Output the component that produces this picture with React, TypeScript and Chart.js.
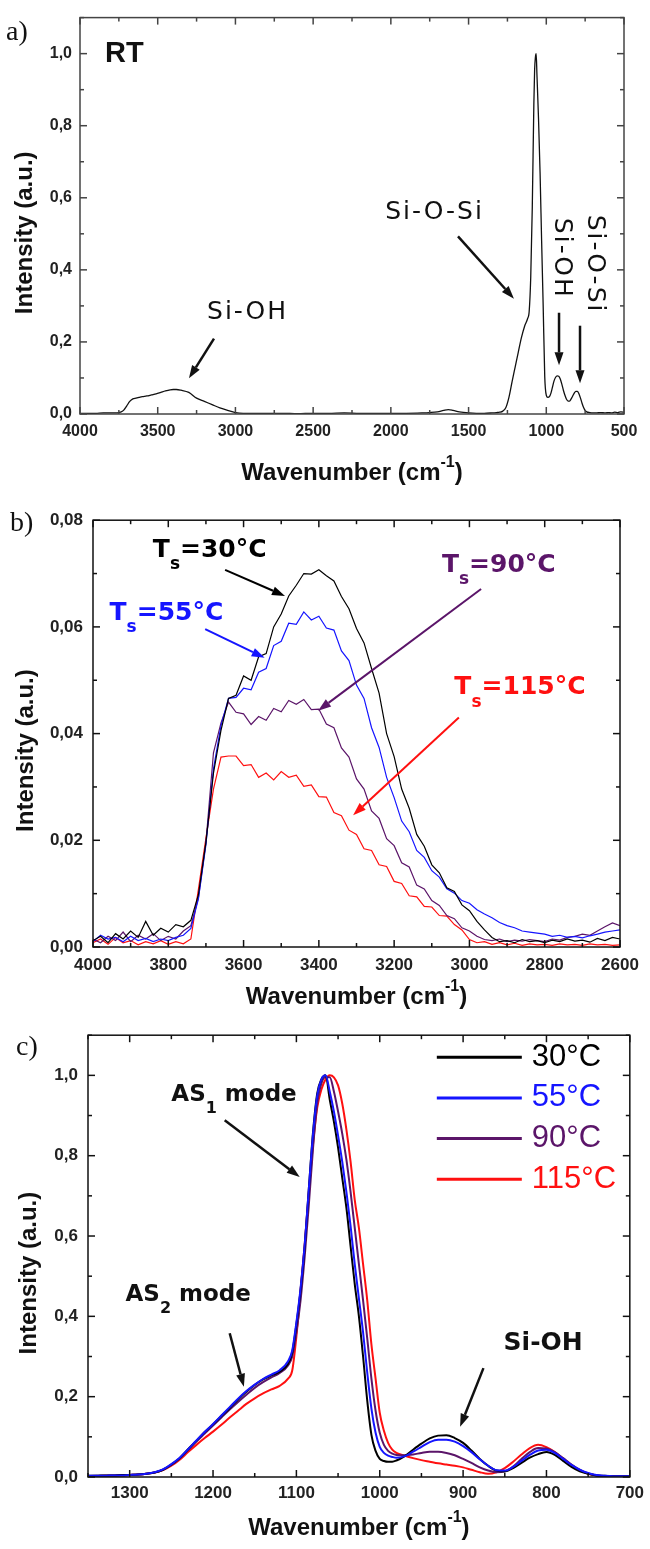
import React, { useEffect, useRef } from "react";
import { Chart, registerables } from "chart.js";
Chart.register(...registerables);

// ---------------- Panel a (RT spectrum) ----------------
const A_WAVENUMBER = [4000,3950,3900,3850,3800,3760,3740,3720,3700,3680,3660,3640,3620,3600,
  3570,3540,3510,3480,3450,3420,3400,3380,3350,
  3300,3250,3200,3150,3100,3050,3000,2950,2900,
  2800,2700,2600,2500,2400,2300,2200,2100,2000,
  1900,1800,1750,1700,1660,1630,1600,1560,1500,1450,1400,1350,
  1320,1300,1280,1260,1240,1220,1200,1180,1160,1140,1120,1110,
  1100,1090,1080,1075,1070,1065,1060,1050,1040,1030,1020,1010,1000,
  990,980,970,960,950,940,930,920,910,900,890,880,870,860,850,840,830,820,810,800,790,780,770,760,750,740,
  720,700,680,650,620,600,580,560,540,520,500];
const A_INTENSITY = [0.002,0.002,0.002,0.003,0.003,0.003,0.005,0.010,0.022,0.035,0.042,0.044,0.046,0.048,
  0.050,0.053,0.056,0.060,0.064,0.067,0.068,0.068,0.066,
  0.060,0.044,0.035,0.026,0.017,0.010,0.004,0.002,0.002,
  0.002,0.002,0.001,0.002,0.002,0.003,0.002,0.002,0.002,
  0.002,0.003,0.004,0.006,0.010,0.012,0.010,0.006,0.003,0.002,0.002,0.003,
  0.004,0.005,0.008,0.018,0.047,0.090,0.131,0.172,0.212,0.243,0.265,0.285,
  0.38,0.575,0.86,0.955,0.99,1.0,0.94,0.82,0.67,0.48,0.30,0.105,0.052,
  0.046,0.048,0.058,0.075,0.092,0.102,0.106,0.105,0.097,0.083,0.066,0.052,0.041,0.036,0.036,0.042,0.050,0.058,0.063,0.063,0.056,0.044,0.030,0.018,0.010,0.006,
  0.004,0.003,0.003,0.004,0.003,0.004,0.003,0.005,0.004,0.006,0.005];
const A_X_TICKS = [4000, 3500, 3000, 2500, 2000, 1500, 1000, 500];
const A_Y_TICKS = [0, 0.2, 0.4, 0.6, 0.8, 1.0];

// ---------------- Panel b (OH band vs Ts) ----------------
const B_WAVENUMBER = [4000,3980,3960,3940,3920,3900,3880,3860,3840,3820,
  3800,3780,3760,3740,3720,3700,3680,3660,3640,3620,
  3600,3580,3560,3540,3520,3500,3480,3460,3440,3420,
  3400,3380,3360,3340,3320,3300,3280,3260,3240,3220,
  3200,3180,3160,3140,3120,3100,3080,3060,3040,3020,
  3000,2980,2960,2940,2920,2900,2880,2860,2840,2820,
  2800,2780,2760,2740,2720,2700,2680,2660,2640,2620,2600];
const B_30 = [0.0012,0.0020,0.0008,0.0025,0.0015,0.0030,0.0018,0.0048,0.0022,0.0035,
  0.0028,0.0042,0.0038,0.0050,0.0098,0.0196,0.0326,0.0406,0.0466,0.0472,
  0.0508,0.0500,0.0544,0.0550,0.0600,0.0624,0.0658,0.0678,0.0700,0.0699,
  0.0707,0.0696,0.0686,0.0657,0.0634,0.0597,0.0570,0.0522,0.0476,0.0400,
  0.0357,0.0296,0.0260,0.0211,0.0189,0.0154,0.0139,0.0111,0.0104,0.0079,
  0.0068,0.0048,0.0032,0.0018,0.0010,0.0012,0.0008,0.0014,0.0010,0.0012,
  0.0008,0.0013,0.0010,0.0015,0.0011,0.0013,0.0009,0.0016,0.0012,0.0018,0.0015];
const B_55 = [0.0010,0.0022,0.0015,0.0018,0.0010,0.0020,0.0012,0.0016,0.0010,0.0015,
  0.0012,0.0018,0.0022,0.0035,0.0090,0.0192,0.0334,0.0415,0.0466,0.0468,
  0.0485,0.0482,0.0515,0.0522,0.0565,0.0573,0.0607,0.0605,0.0628,0.0613,
  0.0620,0.0598,0.0594,0.0555,0.0537,0.0491,0.0466,0.0411,0.0374,0.0318,
  0.0280,0.0236,0.0216,0.0181,0.0168,0.0143,0.0131,0.0109,0.0101,0.0087,
  0.0082,0.0070,0.0062,0.0055,0.0046,0.0040,0.0036,0.0030,0.0028,0.0026,
  0.0024,0.0020,0.0022,0.0018,0.0020,0.0017,0.0021,0.0024,0.0028,0.0030,0.0032];
const B_90 = [0.0015,0.0008,0.0020,0.0012,0.0028,0.0010,0.0022,0.0015,0.0025,0.0012,
  0.0020,0.0015,0.0030,0.0040,0.0092,0.0196,0.0364,0.0420,0.0459,0.0440,
  0.0437,0.0417,0.0432,0.0425,0.0447,0.0441,0.0462,0.0455,0.0464,0.0445,
  0.0446,0.0418,0.0411,0.0373,0.0356,0.0315,0.0296,0.0255,0.0241,0.0203,
  0.0190,0.0158,0.0150,0.0116,0.0109,0.0087,0.0078,0.0059,0.0053,0.0036,
  0.0030,0.0020,0.0014,0.0012,0.0015,0.0010,0.0013,0.0011,0.0014,0.0012,
  0.0010,0.0015,0.0013,0.0018,0.0020,0.0024,0.0022,0.0030,0.0038,0.0045,0.0040];
const B_115 = [0.0008,0.0015,0.0005,0.0018,0.0008,0.0012,0.0004,0.0010,0.0006,0.0012,
  0.0005,0.0010,0.0006,0.0015,0.0108,0.0204,0.0296,0.0356,0.0358,0.0358,
  0.0340,0.0342,0.0318,0.0326,0.0313,0.0329,0.0318,0.0322,0.0301,0.0304,
  0.0282,0.0281,0.0252,0.0246,0.0219,0.0211,0.0184,0.0181,0.0154,0.0151,
  0.0123,0.0119,0.0096,0.0094,0.0076,0.0075,0.0059,0.0058,0.0042,0.0032,
  0.0014,0.0008,0.0010,0.0005,0.0008,0.0004,0.0007,0.0003,0.0006,0.0004,
  0.0005,0.0003,0.0006,0.0004,0.0005,0.0003,0.0006,0.0004,0.0005,0.0003,0.0004];
const B_X_TICKS = [4000, 3800, 3600, 3400, 3200, 3000, 2800, 2600];
const B_Y_TICKS = [0, 0.02, 0.04, 0.06, 0.08];

// ---------------- Panel c (Si-O-Si band vs Ts) ----------------
const C_WAVENUMBER = [1350,1340,1330,1320,1310,1300,1290,1280,1270,1260,1250,1240,1230,1220,1210,1200,1190,1180,1170,1160,1150,1140,1130,1120,1110,
  1105,1100,1095,1090,1085,1080,1075,1070,1065,1060,1055,1050,1045,1040,1035,1030,1025,1020,1015,1010,1005,1000,995,990,985,
  980,970,960,950,940,930,920,910,900,890,880,870,860,850,840,830,820,810,800,790,780,770,760,750,740,730,720,710,700];
const C_30 = [0.003,0.003,0.004,0.004,0.005,0.005,0.006,0.008,0.011,0.018,0.031,0.047,0.069,0.090,0.112,0.131,0.152,0.172,0.193,0.212,0.229,0.243,0.253,0.262,0.282,
  0.31,0.38,0.465,0.575,0.72,0.86,0.955,0.99,1.0,0.94,0.885,0.82,0.745,0.67,0.575,0.48,0.40,0.30,0.19,0.105,0.065,0.045,0.040,0.038,0.038,
  0.041,0.052,0.068,0.083,0.096,0.103,0.104,0.097,0.085,0.066,0.045,0.028,0.016,0.014,0.022,0.035,0.048,0.057,0.062,0.055,0.040,0.025,0.014,0.008,0.004,0.003,0.002,0.002,0.002];
const C_55 = [0.003,0.003,0.003,0.004,0.004,0.005,0.006,0.008,0.012,0.019,0.032,0.048,0.069,0.091,0.112,0.132,0.153,0.174,0.195,0.214,0.230,0.244,0.255,0.266,0.288,
  0.315,0.385,0.47,0.58,0.72,0.855,0.95,0.99,1.0,0.96,0.91,0.85,0.785,0.71,0.625,0.53,0.445,0.36,0.26,0.17,0.11,0.075,0.060,0.053,0.050,
  0.048,0.052,0.063,0.075,0.087,0.093,0.093,0.088,0.077,0.062,0.044,0.028,0.017,0.016,0.025,0.040,0.055,0.066,0.068,0.060,0.045,0.030,0.018,0.010,0.005,0.003,0.002,0.002,0.002];
const C_90 = [0.002,0.003,0.003,0.004,0.004,0.005,0.006,0.008,0.011,0.018,0.030,0.046,0.067,0.088,0.108,0.128,0.148,0.168,0.187,0.205,0.222,0.236,0.248,0.259,0.278,
  0.30,0.36,0.44,0.55,0.68,0.82,0.93,0.98,0.995,0.995,0.96,0.91,0.855,0.79,0.71,0.62,0.53,0.44,0.345,0.245,0.165,0.11,0.08,0.065,0.058,
  0.055,0.054,0.056,0.060,0.063,0.063,0.060,0.054,0.045,0.035,0.024,0.016,0.012,0.014,0.026,0.045,0.062,0.072,0.071,0.062,0.047,0.031,0.018,0.009,0.004,0.002,0.002,0.002,0.002];
const C_115 = [0.002,0.002,0.003,0.003,0.004,0.005,0.006,0.008,0.011,0.017,0.028,0.043,0.062,0.080,0.097,0.113,0.130,0.148,0.165,0.182,0.196,0.208,0.218,0.227,0.245,
  0.265,0.35,0.465,0.58,0.71,0.83,0.92,0.965,0.99,1.0,0.995,0.975,0.93,0.865,0.785,0.69,0.62,0.53,0.44,0.33,0.245,0.16,0.115,0.085,0.068,
  0.060,0.053,0.047,0.042,0.038,0.034,0.031,0.028,0.024,0.018,0.012,0.008,0.012,0.022,0.038,0.056,0.072,0.080,0.074,0.062,0.046,0.030,0.017,0.008,0.004,0.002,0.002,0.002,0.002];
const C_X_TICKS = [1300, 1200, 1100, 1000, 900, 800, 700];
const C_Y_TICKS = [0, 0.2, 0.4, 0.6, 0.8, 1.0];

const SERIES_LABELS = ["30°C", "55°C", "90°C", "115°C"];
const SERIES_COLORS = ["#000000", "#1515ff", "#5b1569", "#ff1010"];

// ---------------- drawing helpers ----------------
const SANS = '"Liberation Sans", Arial, sans-serif';
const DEJA = '"DejaVu Sans", Verdana, sans-serif';

type Part = { t: string; sub?: boolean; sup?: boolean };
type TextSpec = {
  at: [number, number]; parts: Part[]; size: number; weight: string; family: string;
  color: string; align: "left" | "center"; rotate?: number; spacing?: number;
};
type ArrowSpec = { from: [number, number]; to: [number, number]; color: string; width: number };

function drawRich(ctx: CanvasRenderingContext2D, s: TextSpec, x: number, y: number) {
  ctx.save();
  ctx.translate(x, y);
  if (s.rotate) ctx.rotate(s.rotate);
  ctx.fillStyle = s.color;
  ctx.textBaseline = "middle";
  ctx.textAlign = "left";
  (ctx as any).letterSpacing = (s.spacing || 0) + "px";
  const fontFor = (p: Part) => `${s.weight} ${p.sub || p.sup ? Math.round(s.size * 0.68) : s.size}px ${s.family}`;
  const widths = s.parts.map((p) => { ctx.font = fontFor(p); return ctx.measureText(p.t).width; });
  const total = widths.reduce((a, b) => a + b, 0);
  let cx = s.align === "center" ? -total / 2 : 0;
  s.parts.forEach((p, i) => {
    ctx.font = fontFor(p);
    const dy = p.sub ? s.size * 0.6 : p.sup ? -s.size * 0.42 : 0;
    ctx.fillText(p.t, cx, dy);
    cx += widths[i];
  });
  ctx.restore();
}

function drawArrow(ctx: CanvasRenderingContext2D, x1: number, y1: number, x2: number, y2: number, color: string, w: number) {
  const ang = Math.atan2(y2 - y1, x2 - x1);
  const hl = 13, hw = 4.5;
  const bx = x2 - hl * Math.cos(ang), by = y2 - hl * Math.sin(ang);
  ctx.save();
  ctx.strokeStyle = color;
  ctx.fillStyle = color;
  ctx.lineWidth = w;
  ctx.beginPath(); ctx.moveTo(x1, y1); ctx.lineTo(bx, by); ctx.stroke();
  ctx.beginPath();
  ctx.moveTo(x2, y2);
  ctx.lineTo(bx + hw * Math.sin(ang), by - hw * Math.cos(ang));
  ctx.lineTo(bx - hw * Math.sin(ang), by + hw * Math.cos(ang));
  ctx.closePath(); ctx.fill();
  ctx.restore();
}

const decorPlugin = {
  id: "decor",
  afterDraw(chart: any, _args: any, o: any) {
    const { ctx, chartArea: ca, scales } = chart;
    const xs = scales.x, ys = scales.y;
    ctx.save();
    // frame
    ctx.strokeStyle = o.frameColor;
    ctx.lineWidth = 1.5;
    ctx.strokeRect(ca.left, ca.top, ca.right - ca.left, ca.bottom - ca.top);
    // inward ticks (major + minor) on all four sides
    const seg = (a: number, b: number, c: number, d: number) => { ctx.beginPath(); ctx.moveTo(a, b); ctx.lineTo(c, d); ctx.stroke(); };
    const isMajor = (v: number, majors: number[], eps: number) => majors.some((m) => Math.abs(m - v) < eps);
    const nx = Math.round((xs.max - xs.min) / o.xMinor);
    for (let i = 0; i <= nx; i++) {
      const v = xs.min + i * o.xMinor;
      const len = isMajor(v, o.xMajors, o.xMinor / 10) ? 7 : 4;
      const p = xs.getPixelForValue(v);
      seg(p, ca.bottom, p, ca.bottom - len);
      seg(p, ca.top, p, ca.top + len);
    }
    const ny = Math.round((ys.max - ys.min) / o.yMinor);
    for (let i = 0; i <= ny; i++) {
      const v = ys.min + i * o.yMinor;
      const len = isMajor(v, o.yMajors, o.yMinor / 10) ? 7 : 4;
      const p = ys.getPixelForValue(v);
      seg(ca.left, p, ca.left + len, p);
      seg(ca.right, p, ca.right - len, p);
    }
    // panel letter
    ctx.fillStyle = "#111";
    ctx.font = `28px "Liberation Serif", "Times New Roman", serif`;
    ctx.textBaseline = "middle";
    ctx.textAlign = "left";
    ctx.fillText(o.panelLabel, o.panelLabelX, o.panelLabelY);
    // axis titles
    drawRich(ctx, {
      at: [0, 0], parts: [{ t: "Wavenumber (cm" }, { t: "-1", sup: true }, { t: ")" }],
      size: 24, weight: "bold", family: SANS, color: "#111", align: "center",
    }, (ca.left + ca.right) / 2, ca.bottom + o.xTitleOffset);
    drawRich(ctx, {
      at: [0, 0], parts: [{ t: "Intensity (a.u.)" }], size: 24, weight: "bold", family: SANS,
      color: "#111", align: "center", rotate: -Math.PI / 2,
    }, o.yTitleX, (ca.top + ca.bottom) / 2 + 17);
    // arrows and annotation texts (positioned in data space)
    (o.arrows as ArrowSpec[]).forEach((a) => {
      drawArrow(ctx, xs.getPixelForValue(a.from[0]), ys.getPixelForValue(a.from[1]),
        xs.getPixelForValue(a.to[0]), ys.getPixelForValue(a.to[1]), a.color, a.width);
    });
    (o.texts as TextSpec[]).forEach((t) => {
      drawRich(ctx, t, xs.getPixelForValue(t.at[0]), ys.getPixelForValue(t.at[1]));
    });
    // legend
    if (o.legend) {
      const L = o.legend;
      chart.data.datasets.forEach((ds: any, i: number) => {
        const y = ca.top + L.y0 + i * L.dy;
        ctx.strokeStyle = ds.borderColor;
        ctx.lineWidth = 3;
        seg(ca.right + L.x1, y, ca.right + L.x2, y);
        ctx.fillStyle = ds.borderColor;
        ctx.font = `${L.size}px ${SANS}`;
        ctx.textBaseline = "middle";
        ctx.textAlign = "left";
        ctx.fillText(ds.label, ca.right + L.tx, y);
      });
    }
    ctx.restore();
  },
};

function xScale(min: number, max: number, ticks: number[], fontSize: number, axisHeight: number, pad: number) {
  return {
    type: "linear", min, max, reverse: true,
    grid: { display: false, drawTicks: false },
    border: { display: false },
    ticks: {
      font: { family: SANS, weight: "bold", size: fontSize }, color: "#222", padding: pad,
      maxRotation: 0, autoSkip: false, callback: (v: any) => String(v),
    },
    afterBuildTicks: (s: any) => { s.ticks = ticks.map((v) => ({ value: v })); },
    afterFit: (s: any) => { s.height = axisHeight; },
  };
}
function yScale(min: number, max: number, ticks: number[], digits: number, fontSize: number, axisWidth: number, pad: number) {
  return {
    type: "linear", min, max,
    grid: { display: false, drawTicks: false },
    border: { display: false },
    ticks: {
      font: { family: SANS, weight: "bold", size: fontSize }, color: "#222", padding: pad,
      autoSkip: false, callback: (v: any) => Number(v).toFixed(digits).replace(".", ","),
    },
    afterBuildTicks: (s: any) => { s.ticks = ticks.map((v) => ({ value: v })); },
    afterFit: (s: any) => { s.width = axisWidth; },
  };
}

const pts = (xs: number[], ys: number[]) => xs.map((x, i) => ({ x, y: ys[i] }));

function makeConfigA(): any {
  return {
    type: "line",
    data: {
      datasets: [{
        label: "RT", data: pts(A_WAVENUMBER, A_INTENSITY), borderColor: "#111", borderWidth: 1.3,
        pointRadius: 0, cubicInterpolationMode: "monotone", fill: false,
      }],
    },
    options: {
      animation: false, responsive: false, devicePixelRatio: 1,
      layout: { padding: { top: 14, right: 26, bottom: 0, left: 0 } },
      scales: {
        x: xScale(500, 4000, A_X_TICKS, 16, 86, 8),
        y: yScale(0, 1.1, A_Y_TICKS, 1, 16, 80, 8),
      },
      plugins: {
        legend: { display: false }, tooltip: { enabled: false },
        decor: {
          frameColor: "#444", xMinor: 250, yMinor: 0.1, xMajors: A_X_TICKS, yMajors: A_Y_TICKS,
          panelLabel: "a)", panelLabelX: 6, panelLabelY: 33, xTitleOffset: 59, yTitleX: 25,
          texts: [
            { at: [3714, 1.0], parts: [{ t: "RT" }], size: 29, weight: "bold", family: SANS, color: "#111", align: "center" },
            { at: [2922, 0.281], parts: [{ t: "Si-OH" }], size: 25, weight: "normal", family: DEJA, color: "#111", align: "center", spacing: 2 },
            { at: [1719, 0.559], parts: [{ t: "Si-O-Si" }], size: 25, weight: "normal", family: DEJA, color: "#111", align: "center", spacing: 2 },
            { at: [905, 0.432], parts: [{ t: "Si-OH" }], size: 25, weight: "normal", family: DEJA, color: "#111", align: "center", spacing: 2, rotate: Math.PI / 2 },
            { at: [693, 0.416], parts: [{ t: "Si-O-Si" }], size: 25, weight: "normal", family: DEJA, color: "#111", align: "center", spacing: 2, rotate: Math.PI / 2 },
          ],
          arrows: [
            { from: [3138, 0.209], to: [3299, 0.099], color: "#111", width: 2.5 },
            { from: [1568, 0.493], to: [1208, 0.32], color: "#111", width: 2.5 },
            { from: [918, 0.281], to: [918, 0.135], color: "#111", width: 2.5 },
            { from: [783, 0.245], to: [783, 0.085], color: "#111", width: 2.5 },
          ],
        },
      },
    },
    plugins: [decorPlugin],
  };
}

function makeConfigB(): any {
  const series = [B_30, B_55, B_90, B_115];
  return {
    type: "line",
    data: {
      datasets: series.map((s, i) => ({
        label: SERIES_LABELS[i], data: pts(B_WAVENUMBER, s), borderColor: SERIES_COLORS[i],
        borderWidth: 1.2, pointRadius: 0, tension: 0, fill: false,
      })),
    },
    options: {
      animation: false, responsive: false, devicePixelRatio: 1,
      layout: { padding: { top: 19, right: 30, bottom: 0, left: 0 } },
      scales: {
        x: xScale(2600, 4000, B_X_TICKS, 17, 68, 8),
        y: yScale(0, 0.08, B_Y_TICKS, 2, 17, 93, 10),
      },
      plugins: {
        legend: { display: false }, tooltip: { enabled: false },
        decor: {
          frameColor: "#111", xMinor: 100, yMinor: 0.01, xMajors: B_X_TICKS, yMajors: B_Y_TICKS,
          panelLabel: "b)", panelLabelX: 10, panelLabelY: 24, xTitleOffset: 50, yTitleX: 26,
          texts: [
            { at: [3841, 0.0744], parts: [{ t: "T" }, { t: "s", sub: true }, { t: "=30°C" }], size: 25, weight: "bold", family: DEJA, color: SERIES_COLORS[0], align: "left" },
            { at: [3956, 0.0626], parts: [{ t: "T" }, { t: "s", sub: true }, { t: "=55°C" }], size: 25, weight: "bold", family: DEJA, color: SERIES_COLORS[1], align: "left" },
            { at: [3073, 0.0716], parts: [{ t: "T" }, { t: "s", sub: true }, { t: "=90°C" }], size: 25, weight: "bold", family: DEJA, color: SERIES_COLORS[2], align: "left" },
            { at: [3040, 0.0486], parts: [{ t: "T" }, { t: "s", sub: true }, { t: "=115°C" }], size: 25, weight: "bold", family: DEJA, color: SERIES_COLORS[3], align: "left" },
          ],
          arrows: [
            { from: [3649, 0.0707], to: [3490, 0.0658], color: SERIES_COLORS[0], width: 2 },
            { from: [3702, 0.0596], to: [3544, 0.0542], color: SERIES_COLORS[1], width: 2 },
            { from: [2969, 0.0671], to: [3402, 0.0443], color: SERIES_COLORS[2], width: 2 },
            { from: [3028, 0.043], to: [3309, 0.0247], color: SERIES_COLORS[3], width: 2 },
          ],
        },
      },
    },
    plugins: [decorPlugin],
  };
}

function makeConfigC(): any {
  const series = [C_30, C_55, C_90, C_115];
  return {
    type: "line",
    data: {
      datasets: series.map((s, i) => ({
        label: SERIES_LABELS[i], data: pts(C_WAVENUMBER, s), borderColor: SERIES_COLORS[i],
        borderWidth: 2, pointRadius: 0, cubicInterpolationMode: "monotone", fill: false,
        order: i === 1 ? 0 : 1,
      })),
    },
    options: {
      animation: false, responsive: false, devicePixelRatio: 1,
      layout: { padding: { top: 20, right: 16, bottom: 0, left: 0 } },
      scales: {
        x: xScale(700, 1350, C_X_TICKS, 17, 72, 6),
        y: yScale(0, 1.1, C_Y_TICKS, 1, 17, 88, 10),
      },
      plugins: {
        legend: { display: false }, tooltip: { enabled: false },
        decor: {
          frameColor: "#111", xMinor: 50, yMinor: 0.1, xMajors: C_X_TICKS, yMajors: C_Y_TICKS,
          panelLabel: "c)", panelLabelX: 16, panelLabelY: 33, xTitleOffset: 51, yTitleX: 29,
          legend: { x1: -193, x2: -108, tx: -98, y0: 22, dy: 40.7, size: 31 },
          texts: [
            { at: [1250, 0.95], parts: [{ t: "AS" }, { t: "1", sub: true }, { t: " mode" }], size: 23, weight: "bold", family: DEJA, color: "#111", align: "left" },
            { at: [1305, 0.453], parts: [{ t: "AS" }, { t: "2", sub: true }, { t: " mode" }], size: 23, weight: "bold", family: DEJA, color: "#111", align: "left" },
            { at: [804, 0.333], parts: [{ t: "Si-OH" }], size: 25, weight: "bold", family: DEJA, color: "#111", align: "center" },
          ],
          arrows: [
            { from: [1186, 0.888], to: [1096, 0.747], color: "#111", width: 2.5 },
            { from: [1180, 0.358], to: [1163, 0.2246], color: "#111", width: 2.5 },
            { from: [875.6, 0.271], to: [903.6, 0.125], color: "#111", width: 2.5 },
          ],
        },
      },
    },
    plugins: [decorPlugin],
  };
}

function Panel({ top, height, make }: { top: number; height: number; make: () => any }) {
  const ref = useRef<HTMLCanvasElement>(null);
  useEffect(() => {
    const chart = new Chart(ref.current as HTMLCanvasElement, make());
    return () => chart.destroy();
  }, [make]);
  return (
    <div style={{ position: "absolute", left: 0, top, width: 650, height }}>
      <canvas ref={ref} width={650} height={height} style={{ width: 650, height, display: "block" }} />
    </div>
  );
}

export default function App() {
  return (
    <div style={{ position: "absolute", left: 0, top: 0, width: 650, height: 1549, background: "#fff", overflow: "hidden" }}>
      <Panel top={0} height={500} make={makeConfigA} />
      <Panel top={500} height={515} make={makeConfigB} />
      <Panel top={1015} height={534} make={makeConfigC} />
    </div>
  );
}
